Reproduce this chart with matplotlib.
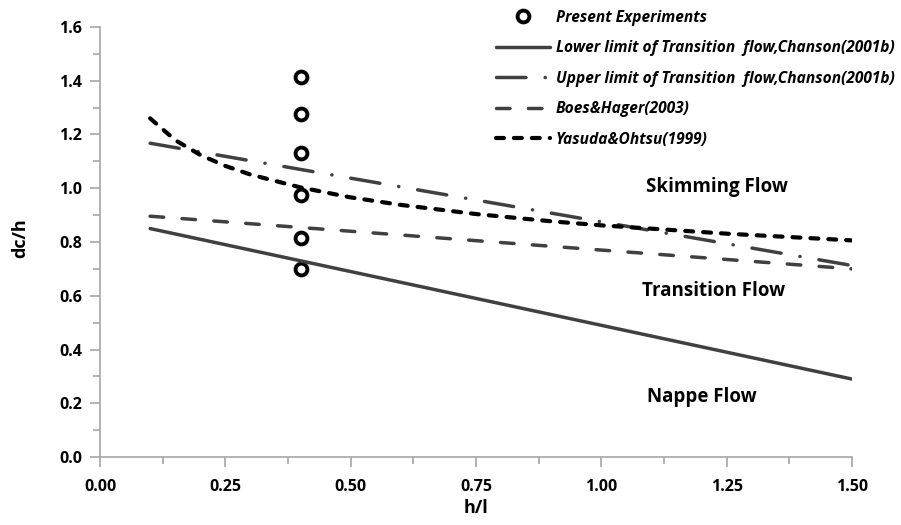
import matplotlib
matplotlib.use("Agg")
import matplotlib.pyplot as plt
from matplotlib.ticker import MultipleLocator

plt.rcParams["font.family"] = ["Open Sans", "DejaVu Sans"]

# Chanson (2001b) transition limits
lower_x = [0.1, 1.5]
lower_y = [0.85, 0.29]
upper_x = [0.1, 1.5]
upper_y = [1.1675, 0.7125]
# Boes & Hager (2003)
boes_x = [0.1, 1.5]
boes_y = [0.896, 0.70]
# Yasuda & Ohtsu (1999)
yas_x = [0.1, 0.15, 0.2, 0.25, 0.3, 0.4, 0.5, 0.6, 0.75, 0.9, 1.0, 1.25, 1.5]
yas_y = [1.260, 1.179, 1.124, 1.083, 1.051, 1.003, 0.966, 0.938, 0.904, 0.877,
         0.862, 0.831, 0.806]
# present experiments
exp_x = [0.4, 0.4, 0.4, 0.4, 0.4, 0.4]
exp_y = [1.415, 1.275, 1.13, 0.975, 0.815, 0.70]

regions = ["Skimming Flow", "Transition Flow", "Nappe Flow"]
region_x = [1.23, 1.224, 1.20]
region_y = [1.005, 0.618, 0.223]

fig = plt.figure(figsize=(9.01, 5.25), dpi=100)
ax = fig.add_axes([0.111, 0.1295, 0.8346, 0.8191])

dark = "#404040"
h_exp, = ax.plot(exp_x, exp_y, ls="none", marker="o", ms=8.5, mfc="white",
                 mec="black", mew=2.8)
h_low, = ax.plot(lower_x, lower_y, color=dark, lw=2.5, solid_capstyle="round")
h_up, = ax.plot(upper_x, upper_y, color=dark, lw=2.5, dash_capstyle="round",
                dashes=(8.5, 5.5, 0.05, 5.5))
h_boes, = ax.plot(boes_x, boes_y, color=dark, lw=2.5, dash_capstyle="round",
                  dashes=(3.9, 5.3))
h_yas, = ax.plot(yas_x, yas_y, color="black", lw=3, dash_capstyle="round",
                 dashes=(1.9, 2.4))

for label, x, y in zip(regions, region_x, region_y):
    ax.text(x, y, label, ha="center", va="center", fontsize=13.5,
            fontweight="bold")

ax.set_xlim(0, 1.5)
ax.set_ylim(0, 1.6)
ax.xaxis.set_major_locator(MultipleLocator(0.25))
ax.xaxis.set_minor_locator(MultipleLocator(0.125))
ax.yaxis.set_major_locator(MultipleLocator(0.2))
ax.yaxis.set_minor_locator(MultipleLocator(0.1))
ax.xaxis.set_major_formatter(lambda v, p: f"{v:.2f}")
ax.yaxis.set_major_formatter(lambda v, p: f"{v:.1f}")

grey = "#a6a6a6"
for side in ("top", "right"):
    ax.spines[side].set_visible(False)
for side in ("left", "bottom"):
    ax.spines[side].set_color(grey)
    ax.spines[side].set_linewidth(1.2)
ax.tick_params(which="both", color=grey, width=1.2, direction="out")
ax.tick_params(which="major", length=7, labelsize=11.5)
ax.tick_params(axis="x", which="major", pad=9)
ax.tick_params(axis="y", which="major", pad=6)
ax.tick_params(which="minor", length=5)
for lab in ax.get_xticklabels() + ax.get_yticklabels():
    lab.set_fontweight("bold")

ax.set_xlabel("h/l", fontsize=13, fontweight="bold")
ax.set_ylabel("dc/h", fontsize=13, fontweight="bold")
ax.xaxis.set_label_coords(0.5, -0.098)
ax.yaxis.set_label_coords(-0.094, 0.51)

fig.legend(
    [h_exp, h_low, h_up, h_boes, h_yas],
    ["Present Experiments",
     "Lower limit of Transition  flow,Chanson(2001b)",
     "Upper limit of Transition  flow,Chanson(2001b)",
     "Boes&Hager(2003)",
     "Yasuda&Ohtsu(1999)"],
    loc="upper left", bbox_to_anchor=(0.535, 1.008), frameon=False,
    prop={"size": 11.2, "style": "italic", "weight": "bold"},
    handlelength=3.45, handletextpad=0.4, labelspacing=0.93,
)

fig.savefig("out.png", dpi=100)
